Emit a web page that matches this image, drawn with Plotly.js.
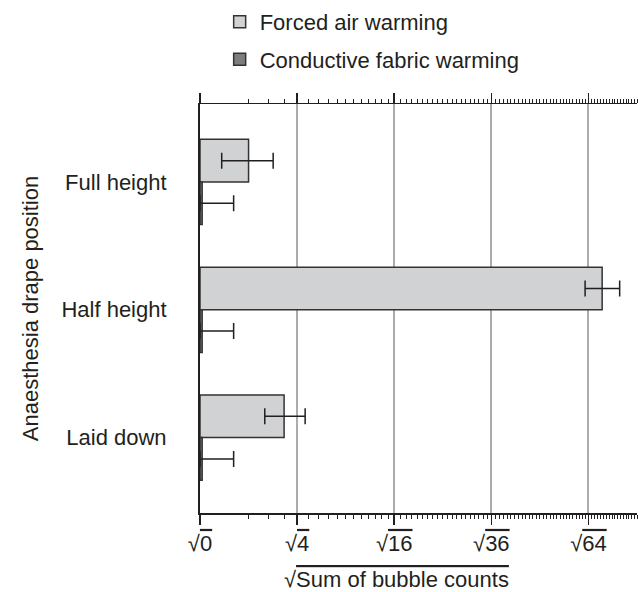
<!DOCTYPE html>
<html>
<head>
<meta charset="utf-8">
<script src="https://cdn.plot.ly/plotly-3.0.1.min.js"></script>
<style>html,body{margin:0;padding:0;background:#fff;}#chart{width:638px;height:592px;}</style>
</head>
<body>
<div id="chart"></div>
<script>
// Categories (top to bottom)
var categories = ["Full height", "Half height", "Laid down"];
// Forced air warming: sum of bubble counts (mean) and error bounds
var forcedMean = [1.0, 68.6, 3.0];
var forcedLow = [0.2, 62.9, 1.78];
var forcedHigh = [2.27, 74.7, 4.69];
// Conductive fabric warming
var conductiveMean = [0.002, 0.002, 0.002];
var conductiveLow = [0, 0, 0];
var conductiveHigh = [0.48, 0.48, 0.48];
// Axis ticks (raw values, shown as square roots)
var tickValuesRaw = [0, 4, 16, 36, 64];
var tickLabelNums = ["0", "4", "16", "36", "64"];

var FONT = "Liberation Sans, Arial, Helvetica, sans-serif";
var INK = "#231f20";
var FS = 22;

function sq(a) { return a.map(function (v) { return Math.sqrt(v); }); }
function diff(a, b) { return a.map(function (v, i) { return Math.max(0, v - b[i]); }); }

var fM = sq(forcedMean), fL = sq(forcedLow), fH = sq(forcedHigh);
var cM = sq(conductiveMean), cL = sq(conductiveLow), cH = sq(conductiveHigh);

var minorVals = [];
for (var n = 1; n <= 81; n++) minorVals.push(Math.sqrt(n));

var traces = [
  {
    type: "bar", orientation: "h", name: "Forced air warming",
    y: categories, x: fM, legendgroup: "a",
    marker: { color: "#d1d2d4", line: { color: "#333333", width: 1.5 } },
    error_x: { type: "data", symmetric: false, array: diff(fH, fM), arrayminus: diff(fM, fL),
      color: INK, thickness: 1.5, width: 8 },
    hoverinfo: "skip"
  },
  {
    type: "bar", orientation: "h", name: "Conductive fabric warming",
    y: categories, x: cM, legendgroup: "b",
    marker: { color: "#7d7d80", line: { color: "#333333", width: 1.5 } },
    error_x: { type: "data", symmetric: false, array: diff(cH, cM), arrayminus: diff(cM, cL),
      color: INK, thickness: 1.5, width: 8 },
    hoverinfo: "skip"
  }
];

var layout = {
  width: 638, height: 592,
  margin: { l: 200, r: 1, t: 100, b: 79 },
  paper_bgcolor: "#fff", plot_bgcolor: "#fff",
  font: { family: FONT, size: FS, color: INK },
  barmode: "group", bargap: 0.333, bargroupgap: 0,
  showlegend: true,
  legend: { x: 0.045, y: 1.252, xanchor: "left", yanchor: "top", traceorder: "grouped",
    tracegroupgap: 6, font: { family: FONT, size: FS, color: INK }, bgcolor: "rgba(0,0,0,0)" },
  xaxis: {
    range: [0, 9.0],
    tickmode: "array",
    tickvals: sq(tickValuesRaw),
    ticktext: tickLabelNums.map(function (t) { return "√<span style='text-decoration:overline'>" + t + "</span>"; }),
    ticks: "outside", ticklen: 10, tickwidth: 1.5, tickcolor: INK,
    showline: true, linecolor: INK, linewidth: 1.5, mirror: "ticks",
    showgrid: true, gridcolor: "#acacae", gridwidth: 2,
    zeroline: false,
    tickfont: { family: FONT, size: FS, color: INK },
    minor: { tickmode: "array", tickvals: minorVals, ticks: "outside", ticklen: 4, tickwidth: 1, tickcolor: INK, showgrid: false }
  },
  yaxis: {
    type: "category", categoryorder: "array", categoryarray: categories,
    range: [2.59, -0.61],
    ticks: "", ticklabelstandoff: 27,
    showline: true, linecolor: INK, linewidth: 2,
    showgrid: false, zeroline: false,
    tickfont: { family: FONT, size: FS, color: INK },
    title: { text: "Anaesthesia drape position", font: { family: FONT, size: FS, color: INK }, standoff: 17 }
  },
  annotations: [
    { xref: "paper", yref: "paper", x: (396 - 200) / 437, y: -(580 - 513) / 413, xanchor: "center", yanchor: "middle",
      showarrow: false, text: "√<span style='text-decoration:overline'>Sum of bubble counts</span>",
      font: { family: FONT, size: FS, color: INK } }
  ]
};

Plotly.newPlot("chart", traces, layout, { displayModeBar: false, staticPlot: true });
</script>
</body>
</html>
